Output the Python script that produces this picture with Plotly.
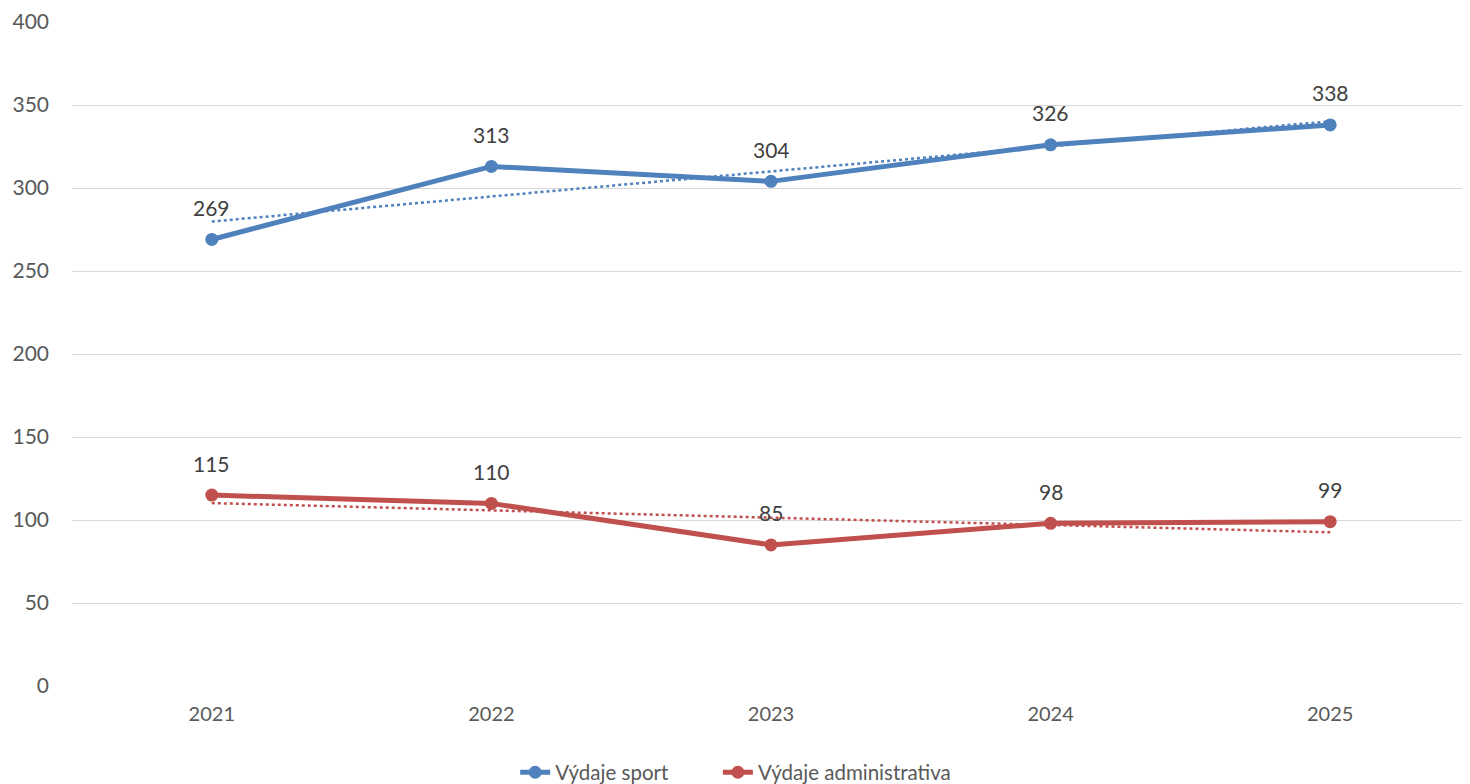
import numpy as np
import plotly.graph_objects as go

years = ["2021", "2022", "2023", "2024", "2025"]
sport = [269, 313, 304, 326, 338]
admin = [115, 110, 85, 98, 99]
y_ticks = [0, 50, 100, 150, 200, 250, 300, 350, 400]

BLUE = "#4F81BD"
RED = "#C0504D"
FONT = "Lato, Carlito, Calibri, sans-serif"


def trend(vals):
    x = np.arange(len(vals))
    a, b = np.polyfit(x, vals, 1)
    return list(a * x + b)


series = [("Výdaje sport", sport, BLUE, "legend"),
          ("Výdaje administrativa", admin, RED, "legend2")]

fig = go.Figure()
for name, vals, col, lg in series:
    fig.add_trace(go.Scatter(
        x=years, y=trend(vals), mode="lines", showlegend=False, hoverinfo="skip",
        line=dict(color=col, width=2.5, dash="dot"),
    ))
for name, vals, col, lg in series:
    fig.add_trace(go.Scatter(
        x=years, y=vals, name=name, mode="lines+markers", legend=lg,
        line=dict(color=col, width=5), marker=dict(size=13, color=col),
    ))
    for i, v in enumerate(vals):
        fig.add_annotation(x=i, y=v, xref="x", yref="y", text=str(v), showarrow=False,
                           yshift=32, font=dict(size=21, color="#404040", family=FONT))

legend_common = dict(orientation="h", y=-0.1, yanchor="top", xanchor="left",
                     font=dict(size=20.5, color="#595959"), bgcolor="rgba(0,0,0,0)")

fig.update_layout(
    width=1462, height=776,
    margin=dict(l=64, r=0, t=14, b=98, autoexpand=False),
    plot_bgcolor="white", paper_bgcolor="white",
    font=dict(family=FONT, size=20, color="#595959"),
    xaxis=dict(type="category", range=[-0.5, 4.5], showgrid=False, showline=False,
               zeroline=False, ticks="", ticklabelstandoff=14,
               tickfont=dict(size=20, color="#595959")),
    yaxis=dict(range=[0, 400], tickvals=y_ticks, showgrid=True, gridcolor="#D9D9D9",
               gridwidth=1.3, zeroline=False, showline=False, ticks="",
               ticklabelstandoff=22, tickfont=dict(size=21, color="#595959")),
    legend=dict(x=0.317, **legend_common),
    legend2=dict(x=0.462, **legend_common),
    showlegend=True,
)
fig.write_html("out.html")
